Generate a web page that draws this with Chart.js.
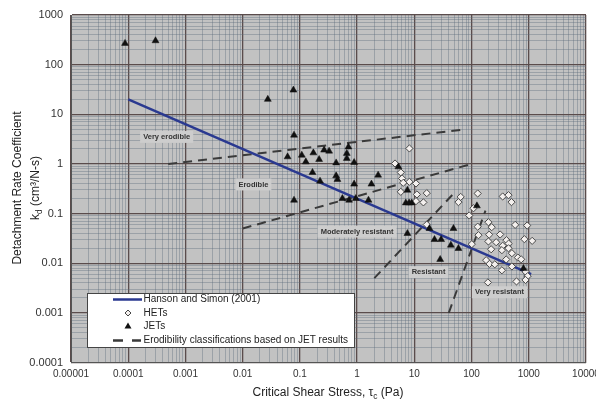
<!DOCTYPE html>
<html>
<head>
<meta charset="utf-8">
<script src="https://cdn.jsdelivr.net/npm/chart.js@4.4.1/dist/chart.umd.min.js"></script>
<style>
  html, body { margin: 0; padding: 0; background: #fff; }
  #wrap { width: 596px; height: 400px; }
</style>
</head>
<body>
<div id="wrap"><canvas id="chart" width="596" height="400"></canvas></div>
<script>
// axis tick labels (decades)
const xTickLabels = ["0.00001", "0.0001", "0.001", "0.01", "0.1", "1", "10", "100", "1000", "10000"];
const yTickLabels = ["0.0001", "0.001", "0.01", "0.1", "1", "10", "100", "1000"];

// Hanson and Simon (2001) curve, end points
const hansonTau = [0.0001, 1100];
const hansonKd = [20, 0.006];

// erodibility class boundaries based on JET results (tau, kd pairs)
const boundA = [[0.0005, 1], [80, 5]];
const boundB = [[0.01, 0.05], [100, 1]];
const boundC = [[2, 0.005], [48, 0.25]];
const boundD = [[40, 0.001], [175, 0.115]];

// JET measurements
const jetTau = [0.000088, 0.0003, 0.0275, 0.077, 0.079, 0.061, 0.108, 0.127, 0.172, 0.217,
  0.265, 0.324, 0.43, 0.705, 0.66, 0.66, 0.887, 0.166, 0.43, 0.453,
  0.225, 0.079, 0.553, 0.724, 0.948, 2.33, 0.887, 1.78, 1.58, 5.27,
  7.57, 7.1, 8.1, 9.0, 7.57, 18.4, 22.5, 29.4, 43.5, 48.3,
  59, 28.3, 124, 807];
const jetKd = [268, 303, 20, 30.7, 3.8, 1.39, 1.5, 1.1, 1.67, 1.23,
  1.9, 1.81, 1.05, 2.2, 1.63, 1.29, 1.07, 0.674, 0.575, 0.487,
  0.45, 0.186, 0.201, 0.186, 0.201, 0.594, 0.392, 0.392, 0.186, 0.874,
  0.296, 0.164, 0.164, 0.164, 0.0397, 0.05, 0.030, 0.030, 0.0231, 0.05,
  0.0198, 0.0119, 0.143, 0.0078];

// HET measurements
const hetTau = [8.2, 4.6, 5.8, 6.1, 8.2, 6.4, 10.7, 5.8, 11.1, 16.5,
  10.7, 14.4, 16.5, 64.5, 59, 128, 108, 91, 350, 442,
  499, 197, 225, 128, 132, 578, 938, 838, 1146, 203,
  316, 408, 445, 197, 269, 350, 220, 442, 339, 101,
  507, 645, 403, 180, 206, 255, 507, 339, 883, 957,
  876, 610, 193, 736];
const hetKd = [2.05, 1.02, 0.674, 0.51, 0.436, 0.416, 0.404, 0.274, 0.243, 0.258,
  0.178, 0.168, 0.06, 0.217, 0.17, 0.254, 0.128, 0.0916, 0.221, 0.235,
  0.17, 0.067, 0.0532, 0.0545, 0.0367, 0.0592, 0.0575, 0.0305, 0.0282, 0.0376,
  0.0379, 0.0291, 0.0249, 0.0274, 0.0265, 0.0225, 0.0191, 0.02, 0.0183, 0.0242,
  0.0159, 0.013, 0.0119, 0.0115, 0.0097, 0.0095, 0.0086, 0.0072, 0.0067, 0.0055,
  0.0046, 0.0043, 0.0041, 0.012];

// class names and where they sit (tau, kd)
const zoneNames = ["Very erodible", "Erodible", "Moderately resistant", "Resistant", "Very resistant"];
const zoneTau = [0.00047, 0.0154, 1.0, 17.7, 308];
const zoneKd = [3.5, 0.386, 0.0435, 0.0066, 0.0026];

const legendNames = ["Hanson and Simon (2001)", "HETs", "JETs", "Erodibility classifications based on JET results"];

const FONT = "Arial, 'Liberation Sans', sans-serif";
const BLUE = "#2a3990";
const DASH = "#3a3a3a";

const toPoints = (xs, ys) => xs.map((x, i) => ({ x: x, y: ys[i] }));
const pairPoints = (arr) => arr.map(p => ({ x: p[0], y: p[1] }));

// decade ticks plus 2..9 minor ticks
function logTicks(labels) {
    const out = [];
    labels.forEach((lab, i) => {
        const d = parseFloat(lab);
        out.push({ value: d, dec: true, txt: lab });
        if (i < labels.length - 1) {
            for (let m = 2; m <= 9; m++) out.push({ value: +(m * d).toPrecision(3), dec: false, txt: "" });
        }
    });
    return out;
}

const gridColor = c => (c.tick && c.tick.dec) ? "#5a4c4c" : "rgba(92,108,124,0.55)";
const gridWidth = c => (c.tick && c.tick.dec) ? 1.3 : 0.7;

// draws text with subscript parts, centered at x
function drawRich(ctx, parts, x, y, size) {
    let total = 0;
    parts.forEach(p => {
        ctx.font = (p.sub ? size * 0.7 : size) + "px " + FONT;
        p.w = ctx.measureText(p.t).width;
        total += p.w;
    });
    let cx = x - total / 2;
    ctx.textAlign = "left";
    ctx.textBaseline = "alphabetic";
    parts.forEach(p => {
        ctx.font = (p.sub ? size * 0.7 : size) + "px " + FONT;
        ctx.fillText(p.t, cx, p.sub ? y + size * 0.25 : y);
        cx += p.w;
    });
}

const plotBg = {
    id: "plotBg",
    beforeDraw(chart) {
        const { ctx, chartArea: a } = chart;
        ctx.save();
        ctx.fillStyle = "#c2c2c2";
        ctx.fillRect(a.left, a.top, a.right - a.left, a.bottom - a.top);
        ctx.restore();
    }
};

const zoneLabels = {
    id: "zoneLabels",
    beforeDatasetsDraw(chart) {
        const { ctx } = chart;
        const xs = chart.scales.x, ys = chart.scales.y;
        ctx.save();
        ctx.font = "bold 7.5px " + FONT;
        ctx.textAlign = "center";
        ctx.textBaseline = "middle";
        zoneNames.forEach((name, i) => {
            const px = xs.getPixelForValue(zoneTau[i]);
            const py = ys.getPixelForValue(zoneKd[i]);
            const w = ctx.measureText(name).width;
            ctx.fillStyle = "#cdcdcd";
            ctx.fillRect(px - w / 2 - 3, py - 6, w + 6, 12);
            ctx.fillStyle = "#333";
            ctx.fillText(name, px, py);
        });
        ctx.restore();
    }
};

const extras = {
    id: "extras",
    afterDraw(chart) {
        const { ctx } = chart;
        ctx.save();
        // legend box
        const lx = 87, ly = 293, lw = 267, lh = 54;
        ctx.fillStyle = "#fff";
        ctx.fillRect(lx, ly, lw, lh);
        ctx.strokeStyle = "#444";
        ctx.lineWidth = 1;
        ctx.strokeRect(lx + 0.5, ly + 0.5, lw, lh);
        const rows = [299.5, 313, 326.5, 340.5];
        const tx = 143.5, sx = 128;
        // line sample
        ctx.strokeStyle = BLUE;
        ctx.lineWidth = 2.5;
        ctx.beginPath(); ctx.moveTo(113, rows[0]); ctx.lineTo(142, rows[0]); ctx.stroke();
        // HET sample
        ctx.fillStyle = "#f4f0ee";
        ctx.strokeStyle = "#444";
        ctx.lineWidth = 1;
        ctx.beginPath();
        ctx.moveTo(sx, rows[1] - 3); ctx.lineTo(sx + 3, rows[1]); ctx.lineTo(sx, rows[1] + 3); ctx.lineTo(sx - 3, rows[1]);
        ctx.closePath(); ctx.fill(); ctx.stroke();
        // JET sample
        ctx.fillStyle = "#111";
        ctx.beginPath();
        ctx.moveTo(sx, rows[2] - 4); ctx.lineTo(sx + 3.5, rows[2] + 2); ctx.lineTo(sx - 3.5, rows[2] + 2);
        ctx.closePath(); ctx.fill();
        // dash sample
        ctx.strokeStyle = DASH;
        ctx.lineWidth = 2.5;
        ctx.beginPath();
        ctx.moveTo(113, rows[3]); ctx.lineTo(123, rows[3]);
        ctx.moveTo(132, rows[3]); ctx.lineTo(141, rows[3]);
        ctx.stroke();
        ctx.fillStyle = "#222";
        ctx.font = "10px " + FONT;
        ctx.textAlign = "left";
        ctx.textBaseline = "middle";
        legendNames.forEach((n, i) => ctx.fillText(n, tx, rows[i]));

        // axis titles
        ctx.fillStyle = "#222";
        drawRich(ctx, [{ t: "Critical Shear Stress, τ" }, { t: "c", sub: true }, { t: " (Pa)" }], 328, 396, 12);
        ctx.translate(0, 0);
        ctx.save();
        ctx.translate(21, 188);
        ctx.rotate(-Math.PI / 2);
        drawRich(ctx, [{ t: "Detachment Rate Coefficient" }], 0, 0, 12);
        ctx.restore();
        ctx.save();
        ctx.translate(39, 188);
        ctx.rotate(-Math.PI / 2);
        drawRich(ctx, [{ t: "k" }, { t: "d", sub: true }, { t: " (cm³/N-s)" }], 0, 0, 12);
        ctx.restore();
        ctx.restore();
    }
};

const lineDs = (data, color, width, dash) => ({
    type: "line",
    data: data,
    borderColor: color,
    borderWidth: width,
    borderDash: dash,
    pointRadius: 0,
    fill: false,
    tension: 0
});

new Chart(document.getElementById("chart"), {
    type: "scatter",
    data: {
        datasets: [
            {
                label: "JETs",
                data: toPoints(jetTau, jetKd),
                pointStyle: "triangle",
                radius: 4,
                backgroundColor: "#111",
                borderColor: "#111",
                borderWidth: 0.5
            },
            {
                label: "HETs",
                data: toPoints(hetTau, hetKd),
                pointStyle: "rectRot",
                radius: 3.6,
                backgroundColor: "#f4f0ee",
                borderColor: "#4a4a4a",
                borderWidth: 1
            },
            lineDs(toPoints(hansonTau, hansonKd), BLUE, 2.5, []),
            lineDs(pairPoints(boundA), DASH, 2, [9, 6]),
            lineDs(pairPoints(boundB), DASH, 2, [9, 6]),
            lineDs(pairPoints(boundC), DASH, 2, [9, 6]),
            lineDs(pairPoints(boundD), DASH, 2, [9, 6])
        ]
    },
    options: {
        responsive: false,
        animation: false,
        devicePixelRatio: 1,
        layout: { padding: { top: 15, right: 10, left: 0, bottom: 0 } },
        plugins: { legend: { display: false }, tooltip: { enabled: false } },
        scales: {
            x: {
                type: "logarithmic",
                min: 0.00001,
                max: 10000,
                afterBuildTicks: s => { s.ticks = logTicks(xTickLabels); },
                afterFit: s => { s.height = 37.5; s.paddingLeft = 0; s.paddingRight = 0; },
                grid: { color: gridColor, lineWidth: gridWidth, drawTicks: false },
                border: { display: true, color: "#555", width: 1 },
                ticks: {
                    autoSkip: false,
                    maxRotation: 0,
                    padding: 6,
                    color: "#333",
                    font: { family: FONT, size: 10 },
                    callback: (v, i, t) => t[i].dec ? t[i].txt : ""
                }
            },
            y: {
                type: "logarithmic",
                min: 0.0001,
                max: 1000,
                afterBuildTicks: s => { s.ticks = logTicks(yTickLabels); },
                afterFit: s => { s.width = 71; s.paddingTop = 0; s.paddingBottom = 0; },
                grid: { color: gridColor, lineWidth: gridWidth, drawTicks: false },
                border: { display: true, color: "#555", width: 1 },
                ticks: {
                    autoSkip: false,
                    padding: 8,
                    color: "#333",
                    font: { family: FONT, size: 11 },
                    callback: (v, i, t) => t[i].dec ? t[i].txt : ""
                }
            }
        }
    },
    plugins: [plotBg, zoneLabels, extras]
});
</script>
</body>
</html>
